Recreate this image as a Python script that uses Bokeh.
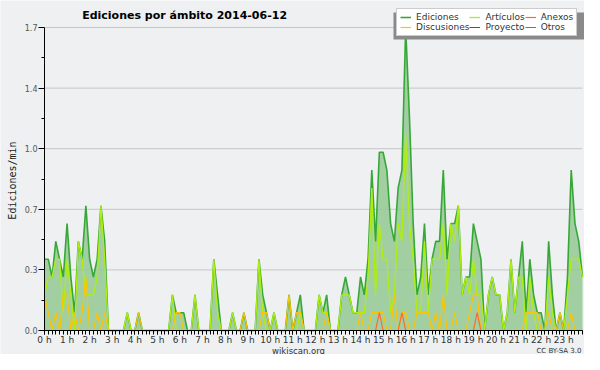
from bokeh.plotting import figure
from bokeh.models import FixedTicker, Legend, LegendItem, Label, BoxAnnotation, ColumnDataSource
from bokeh.embed import file_html
from bokeh.resources import INLINE
from math import pi

# ---- data (edits per minute, 10-minute buckets, 2014-06-12) ----
hours = list(range(24))
hour_labels = [f"{h} h" for h in hours]
y_ticks = [0, 0.34, 0.68, 1.02, 1.36, 1.7]
y_labels = ["0.0", "0.3", "0.7", "1.0", "1.4", "1.7"]

ediciones = [
    0.4, 0.4, 0.3, 0.5, 0.4, 0.3,
    0.6, 0.3, 0.1, 0.5, 0.4, 0.7,
    0.4, 0.3, 0.4, 0.7, 0.5, 0.0,
    0.0, 0.0, 0.0, 0.0, 0.1, 0.0,
    0.0, 0.1, 0.0, 0.0, 0.0, 0.0,
    0.0, 0.0, 0.0, 0.0, 0.2, 0.1,
    0.1, 0.1, 0.0, 0.0, 0.2, 0.0,
    0.0, 0.0, 0.0, 0.4, 0.2, 0.0,
    0.0, 0.0, 0.1, 0.0, 0.0, 0.1,
    0.0, 0.0, 0.0, 0.4, 0.2, 0.1,
    0.0, 0.1, 0.0, 0.0, 0.0, 0.2,
    0.0, 0.1, 0.2, 0.0, 0.0, 0.0,
    0.0, 0.2, 0.1, 0.2, 0.0, 0.0,
    0.0, 0.2, 0.3, 0.2, 0.1, 0.1,
    0.3, 0.2, 0.4, 0.9, 0.5, 1.0,
    1.0, 0.9, 0.6, 0.5, 0.8, 0.9,
    1.7, 1.2, 0.6, 0.2, 0.3, 0.6,
    0.2, 0.4, 0.5, 0.5, 0.9, 0.4,
    0.6, 0.6, 0.7, 0.2, 0.3, 0.3,
    0.6, 0.5, 0.4, 0.0, 0.2, 0.3,
    0.2, 0.2, 0.0, 0.1, 0.4, 0.1,
    0.3, 0.5, 0.1, 0.4, 0.2, 0.1,
    0.1, 0.0, 0.5, 0.2, 0.0, 0.1,
    0.0, 0.3, 0.9, 0.6, 0.5, 0.3,
]

articulos = [
    0.2, 0.3, 0.3, 0.4, 0.4, 0.1,
    0.4, 0.2, 0.0, 0.5, 0.4, 0.2,
    0.2, 0.2, 0.3, 0.7, 0.4, 0.0,
    0.0, 0.0, 0.0, 0.0, 0.1, 0.0,
    0.0, 0.0, 0.0, 0.0, 0.0, 0.0,
    0.0, 0.0, 0.0, 0.0, 0.2, 0.0,
    0.0, 0.0, 0.0, 0.0, 0.2, 0.0,
    0.0, 0.0, 0.0, 0.4, 0.1, 0.0,
    0.0, 0.0, 0.1, 0.0, 0.0, 0.0,
    0.0, 0.0, 0.0, 0.4, 0.1, 0.0,
    0.0, 0.1, 0.0, 0.0, 0.0, 0.0,
    0.0, 0.0, 0.1, 0.0, 0.0, 0.0,
    0.0, 0.2, 0.1, 0.1, 0.0, 0.0,
    0.0, 0.2, 0.2, 0.2, 0.1, 0.1,
    0.1, 0.1, 0.3, 0.8, 0.2, 0.6,
    0.4, 0.4, 0.1, 0.2, 0.6, 0.5,
    1.1, 0.6, 0.4, 0.1, 0.1, 0.5,
    0.1, 0.4, 0.4, 0.4, 0.6, 0.2,
    0.6, 0.5, 0.7, 0.2, 0.3, 0.2,
    0.4, 0.2, 0.2, 0.0, 0.2, 0.3,
    0.2, 0.2, 0.0, 0.1, 0.4, 0.1,
    0.3, 0.3, 0.0, 0.3, 0.1, 0.0,
    0.0, 0.0, 0.3, 0.1, 0.0, 0.0,
    0.0, 0.2, 0.4, 0.4, 0.4, 0.3,
]

discusiones = [
    0.2, 0.1, 0.0, 0.1, 0.0, 0.2,
    0.2, 0.0, 0.1, 0.0, 0.1, 0.3,
    0.0, 0.0, 0.1, 0.0, 0.1, 0.0,
    0.0, 0.0, 0.0, 0.0, 0.0, 0.0,
    0.0, 0.1, 0.0, 0.0, 0.0, 0.0,
    0.0, 0.0, 0.0, 0.0, 0.0, 0.1,
    0.1, 0.0, 0.0, 0.0, 0.0, 0.0,
    0.0, 0.0, 0.0, 0.0, 0.0, 0.0,
    0.0, 0.0, 0.0, 0.0, 0.0, 0.1,
    0.0, 0.0, 0.0, 0.0, 0.1, 0.1,
    0.0, 0.0, 0.0, 0.0, 0.0, 0.2,
    0.0, 0.1, 0.1, 0.0, 0.0, 0.0,
    0.0, 0.0, 0.0, 0.1, 0.0, 0.0,
    0.0, 0.0, 0.0, 0.0, 0.0, 0.0,
    0.1, 0.0, 0.0, 0.1, 0.1, 0.1,
    0.1, 0.0, 0.0, 0.2, 0.0, 0.1,
    0.1, 0.0, 0.0, 0.1, 0.1, 0.1,
    0.1, 0.0, 0.1, 0.0, 0.2, 0.0,
    0.0, 0.1, 0.0, 0.0, 0.0, 0.1,
    0.2, 0.2, 0.0, 0.0, 0.0, 0.0,
    0.0, 0.0, 0.0, 0.0, 0.0, 0.0,
    0.0, 0.0, 0.1, 0.1, 0.1, 0.1,
    0.0, 0.0, 0.1, 0.0, 0.0, 0.1,
    0.0, 0.0, 0.1, 0.0, 0.0, 0.0,
]

anexos = [0.0] * 89 + [0.1] + [0.0] * 5 + [0.1] + [0.0] * 19 + [0.1] + [0.0] * 28
proyecto = [0.0] * 144
otros = [0.0] * 144

x = [i / 6 for i in range(len(ediciones))]

# ---- layout (canvas pixels) ----
W, H = 584, 354
PX_L, PX_R = 44, 582      # x = 0 and last bucket
PX_Y0, PX_Y1 = 330, 27    # y = 0 and y = 1.7
x_px = (PX_R - PX_L) / x[-1]
y_px = (PX_Y0 - PX_Y1) / y_ticks[-1]
x_range = (-PX_L / x_px, x[-1] + (W - PX_R) / x_px)
y_range = (-(H - PX_Y0) / y_px, y_ticks[-1] + PX_Y1 / y_px)

BG = "#eef0f2"
C_ED, C_ED_FILL = "#37a837", "#96c996"
C_ART, C_DISC, C_ANX, C_PROY, C_OTR = "#b0ee10", "#ffc400", "#ff6a2a", "#555555", "#9a4ee8"

src = ColumnDataSource(dict(x=x, ed=ediciones, art=articulos, disc=discusiones,
                            anx=anexos, proy=proyecto, otr=otros))

p = figure(width=W, height=H, x_range=x_range, y_range=y_range,
           output_backend="svg", toolbar_location=None,
           min_border_left=0, min_border_right=0, min_border_top=0, min_border_bottom=0,
           background_fill_color=BG, border_fill_color=BG)
p.outline_line_color = None
p.xgrid.visible = False
p.ygrid.visible = False

minor_y = [(a + b) / 2 for a, b in zip(y_ticks[:-1], y_ticks[1:])]
p.yaxis.ticker = FixedTicker(ticks=y_ticks, minor_ticks=minor_y)
p.yaxis.major_label_overrides = {t: l for t, l in zip(y_ticks, y_labels)}
p.yaxis.bounds = (0, y_ticks[-1])
p.yaxis.fixed_location = 0
p.xaxis.ticker = FixedTicker(ticks=hours, minor_ticks=x)
p.xaxis.major_label_overrides = {h: l for h, l in zip(hours, hour_labels)}
p.xaxis.fixed_location = 0
p.xaxis.bounds = (0, x[-1])

for ax in (p.xaxis, p.yaxis):
    ax.axis_line_color = "black"
    ax.major_tick_line_color = "black"
    ax.minor_tick_line_color = "black"
    ax.major_tick_in = 0
    ax.minor_tick_in = 0
    ax.major_label_text_font = "DejaVu Sans"
    ax.major_label_text_color = "#333333"
p.xaxis.major_tick_out = 4
p.xaxis.minor_tick_out = 4
p.xaxis.major_label_standoff = 0
p.xaxis.major_label_text_font_size = "9px"
p.yaxis.major_tick_out = 6
p.yaxis.minor_tick_out = 3
p.yaxis.major_label_standoff = 1
p.yaxis.major_label_text_font_size = "8px"
p.yaxis.major_label_text_color = "#555555"

# horizontal grid lines at the y ticks, spanning the time axis only
p.segment(x0=0, x1=x[-1], y0=y_ticks[1:], y1=y_ticks[1:], line_color="#c6c6c6", line_width=1)

p.varea(x="x", y1=0, y2="ed", source=src, fill_color=C_ED_FILL, fill_alpha=0.88)
r_ed = p.line("x", "ed", source=src, line_color=C_ED, line_width=1.6)
r_art = p.line("x", "art", source=src, line_color=C_ART, line_width=1.3)
r_disc = p.line("x", "disc", source=src, line_color=C_DISC, line_width=1.2)
r_anx = p.line("x", "anx", source=src, line_color=C_ANX, line_width=1.2)
r_proy = p.line("x", "proy", source=src, line_color=C_PROY, line_width=1.0)
r_otr = p.line("x", "otr", source=src, line_color=C_OTR, line_width=1.0)

# legend shadow (canvas pixels)
shadow = BoxAnnotation(left=393, right=586, top=12, bottom=39,
                       left_units="canvas", right_units="canvas",
                       top_units="canvas", bottom_units="canvas",
                       fill_color="#8a8a8a", fill_alpha=1, line_color=None)
p.add_layout(shadow)

legend = Legend(items=[
    LegendItem(label="Ediciones", renderers=[r_ed]),
    LegendItem(label="Discusiones", renderers=[r_disc]),
    LegendItem(label="Artículos", renderers=[r_art]),
    LegendItem(label="Proyecto", renderers=[r_proy]),
    LegendItem(label="Anexos", renderers=[r_anx]),
    LegendItem(label="Otros", renderers=[r_otr]),
], location=(396, H - 36), orientation="vertical", nrows=2,
    padding=3, spacing=0, margin=0, label_height=10, glyph_height=10, glyph_width=11,
    label_standoff=5, label_text_font="DejaVu Sans", label_text_font_size="9px",
    label_text_color="#333333", background_fill_color="white", background_fill_alpha=1,
    border_line_color="#9a9a9a", border_line_width=1)
p.add_layout(legend)

p.add_layout(Label(x=186, y=H - 15, x_units="screen", y_units="screen",
                   text="Ediciones por ámbito  2014-06-12", text_align="center",
                   text_baseline="middle", text_font="DejaVu Sans",
                   text_font_size="11px", text_font_style="bold", text_color="black"))
p.add_layout(Label(x=12, y=H - 180, x_units="screen", y_units="screen", angle=pi / 2,
                   text="Ediciones/min", text_align="center", text_baseline="middle",
                   text_font="DejaVu Sans Mono", text_font_size="10px", text_color="#222222"))
p.add_layout(Label(x=298, y=4, x_units="screen", y_units="screen",
                   text="wikiscan.org", text_align="center", text_baseline="alphabetic",
                   text_font="DejaVu Sans", text_font_size="8.5px", text_color="#333333"))
p.add_layout(Label(x=581, y=4, x_units="screen", y_units="screen",
                   text="CC BY-SA 3.0", text_align="right", text_baseline="alphabetic",
                   text_font="DejaVu Sans", text_font_size="7px", text_color="#333333"))

open("out.html", "w").write(file_html(p, INLINE))
